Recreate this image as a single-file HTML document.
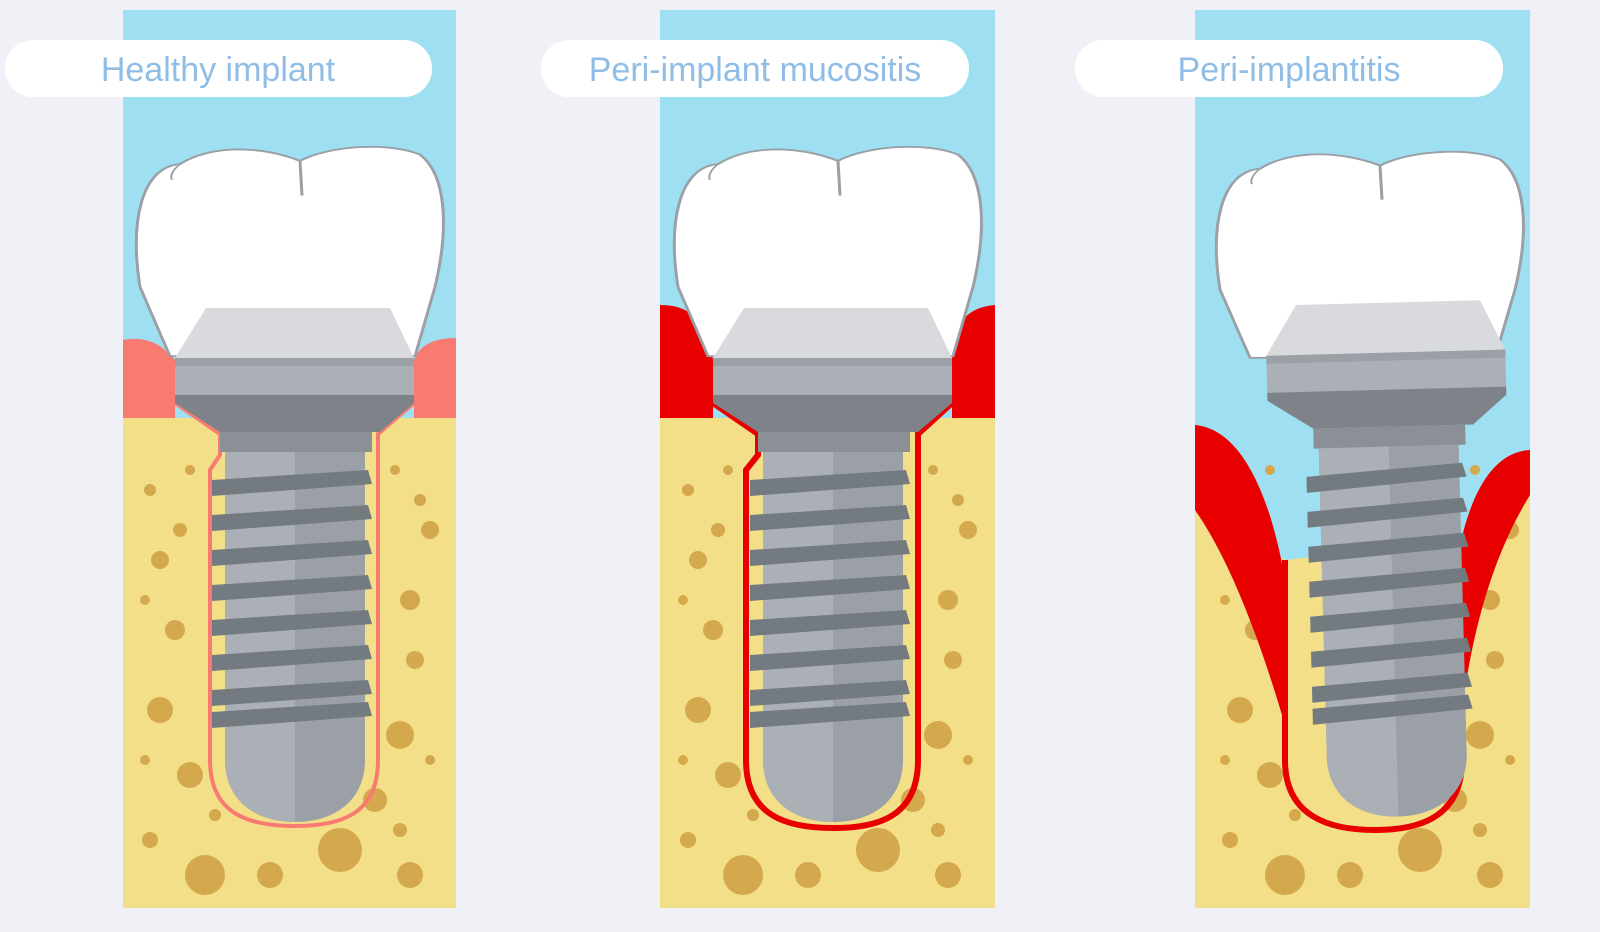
<!DOCTYPE html>
<html><head><meta charset="utf-8"><style>
html,body{margin:0;padding:0;background:#eff1f6;}
svg{display:block}
</style></head><body>
<svg width="1600" height="932" viewBox="0 0 1600 932" xmlns="http://www.w3.org/2000/svg">
<defs>
<g id="crown">
  <path d="M-150,230 C-160,130 -150,40 -110,35 C-80,5 -30,5 10,30 C40,5 100,0 130,20 C155,50 160,130 145,230 L125,340 L-120,340 Z" fill="#ffffff" stroke="#9aa0a6" stroke-width="3"/>
  <path d="M10,30 L12,85" stroke="#9aa0a6" stroke-width="3" fill="none"/>
  <path d="M-110,35 C-118,45 -120,55 -118,60" stroke="#9aa0a6" stroke-width="2" fill="none"/>
</g>
<g id="implant">
  <path d="M-84,308 L100,308 L124,358 L-115,358 Z" fill="#d8dadd"/>
  <rect x="-115" y="358" width="239" height="37" fill="#aab0b6"/>
  <rect x="-115" y="358" width="239" height="8" fill="#9aa0a6"/>
  <path d="M-115,395 L124,395 L124,403 L90,432 L-70,432 L-115,403 Z" fill="#7d8389"/>
  <rect x="-70" y="432" width="152" height="20" fill="#8a9096"/>
  <path d="M-65,452 L75,452 L75,760 C75,800 45,822 5,822 C-35,822 -65,800 -65,760 Z" fill="#9aa0a6"/>
  <path d="M-65,452 L5,452 L5,822 C-35,822 -65,800 -65,760 Z" fill="#aab0b6"/>
  <g fill="#737a80">
    <path d="M-78,480 L78,470 L82,484 L-78,496 Z"/>
    <path d="M-78,515 L78,505 L82,519 L-78,531 Z"/>
    <path d="M-78,550 L78,540 L82,554 L-78,566 Z"/>
    <path d="M-78,585 L78,575 L82,589 L-78,601 Z"/>
    <path d="M-78,620 L78,610 L82,624 L-78,636 Z"/>
    <path d="M-78,655 L78,645 L82,659 L-78,671 Z"/>
    <path d="M-78,690 L78,680 L82,694 L-78,706 Z"/>
    <path d="M-78,712 L78,702 L82,716 L-78,728 Z"/>
  </g>
</g>
<g id="dots" fill="#d4a84c">
  <circle cx="-140" cy="490" r="6"/><circle cx="-100" cy="470" r="5"/><circle cx="-130" cy="560" r="9"/>
  <circle cx="-115" cy="630" r="10"/><circle cx="-130" cy="710" r="13"/><circle cx="-100" cy="775" r="13"/>
  <circle cx="-140" cy="840" r="8"/><circle cx="-85" cy="875" r="20"/><circle cx="-20" cy="875" r="13"/>
  <circle cx="50" cy="850" r="22"/><circle cx="120" cy="875" r="13"/><circle cx="85" cy="800" r="12"/>
  <circle cx="110" cy="735" r="14"/><circle cx="125" cy="660" r="9"/><circle cx="120" cy="600" r="10"/>
  <circle cx="140" cy="530" r="9"/><circle cx="105" cy="470" r="5"/><circle cx="130" cy="500" r="6"/>
  <circle cx="-145" cy="600" r="5"/><circle cx="-145" cy="760" r="5"/><circle cx="140" cy="760" r="5"/>
  <circle cx="-75" cy="815" r="6"/><circle cx="110" cy="830" r="7"/><circle cx="-110" cy="530" r="7"/>
</g>
</defs>

<!-- Panel 1 -->
<g transform="translate(290,0)">
  <rect x="-167" y="10" width="333" height="898" fill="#9fdff2"/>
  <path d="M-167,340 C-140,335 -125,348 -115,360 L-115,418 L-167,418 Z" fill="#f87b72"/>
  <path d="M166,338 C140,338 128,348 124,360 L124,418 L166,418 Z" fill="#f87b72"/>
  <rect x="-167" y="418" width="333" height="490" fill="#f3df88"/>
  <use href="#dots"/>
  <path d="M-115,403 L-70,434 L-70,455 L-80,470 L-80,760 C-80,815 -40,826 5,826 C50,826 88,815 88,760 L88,434 L124,403" fill="none" stroke="#f87b72" stroke-width="4"/>
  <use href="#crown" transform="translate(0,142) scale(1,0.63)"/>
  <use href="#implant"/>
</g>

<!-- Panel 2 -->
<g transform="translate(828,0)">
  <rect x="-168" y="10" width="335" height="898" fill="#9fdff2"/>
  <path d="M-168,305 C-130,305 -120,330 -115,360 L-115,418 L-168,418 Z" fill="#e80000"/>
  <path d="M167,305 C130,308 125,335 124,360 L124,418 L167,418 Z" fill="#e80000"/>
  <rect x="-168" y="418" width="335" height="490" fill="#f3df88"/>
  <use href="#dots"/>
  <path d="M-115,403 L-70,434 L-70,455 L-82,470 L-82,760 C-82,817 -40,828 5,828 C50,828 90,817 90,760 L90,434 L124,403" fill="none" stroke="#e80000" stroke-width="6"/>
  <use href="#crown" transform="translate(0,142) scale(1,0.63)"/>
  <use href="#implant"/>
</g>

<!-- Panel 3 -->
<g transform="translate(1370,0)">
  <rect x="-175" y="10" width="335" height="898" fill="#9fdff2"/>
  <path d="M-175,500 L-85,560 L92,540 L160,480 L160,908 L-175,908 Z" fill="#f3df88"/>
  <use href="#dots"/>
  <path d="M-175,425 C-120,430 -95,520 -85,580 L-85,725 C-110,640 -140,560 -175,510 Z" fill="#e80000"/>
  <path d="M160,450 C120,452 100,500 90,545 L90,725 C100,640 120,560 160,495 Z" fill="#e80000"/>
  <path d="M-85,560 L-85,760 C-85,817 -40,830 5,830 C50,830 92,817 92,760 L92,540" fill="none" stroke="#e80000" stroke-width="6"/>
  <use href="#crown" transform="translate(0,147) scale(1,0.62)"/>
  <use href="#implant" transform="rotate(-1.5) translate(2,-5)"/>
</g>

<!-- Labels -->
<g font-family="Liberation Sans, sans-serif" font-size="34" text-anchor="middle">
  <rect x="5" y="40" width="427" height="57" rx="28" fill="#ffffff"/>
  <text x="218" y="81" fill="#8fbde6">Healthy implant</text>
  <rect x="541" y="40" width="428" height="57" rx="28" fill="#ffffff"/>
  <text x="755" y="81" fill="#8fbde6">Peri-implant mucositis</text>
  <rect x="1075" y="40" width="428" height="57" rx="28" fill="#ffffff"/>
  <text x="1289" y="81" fill="#8fbde6">Peri-implantitis</text>
</g>
</svg>
</body></html>
